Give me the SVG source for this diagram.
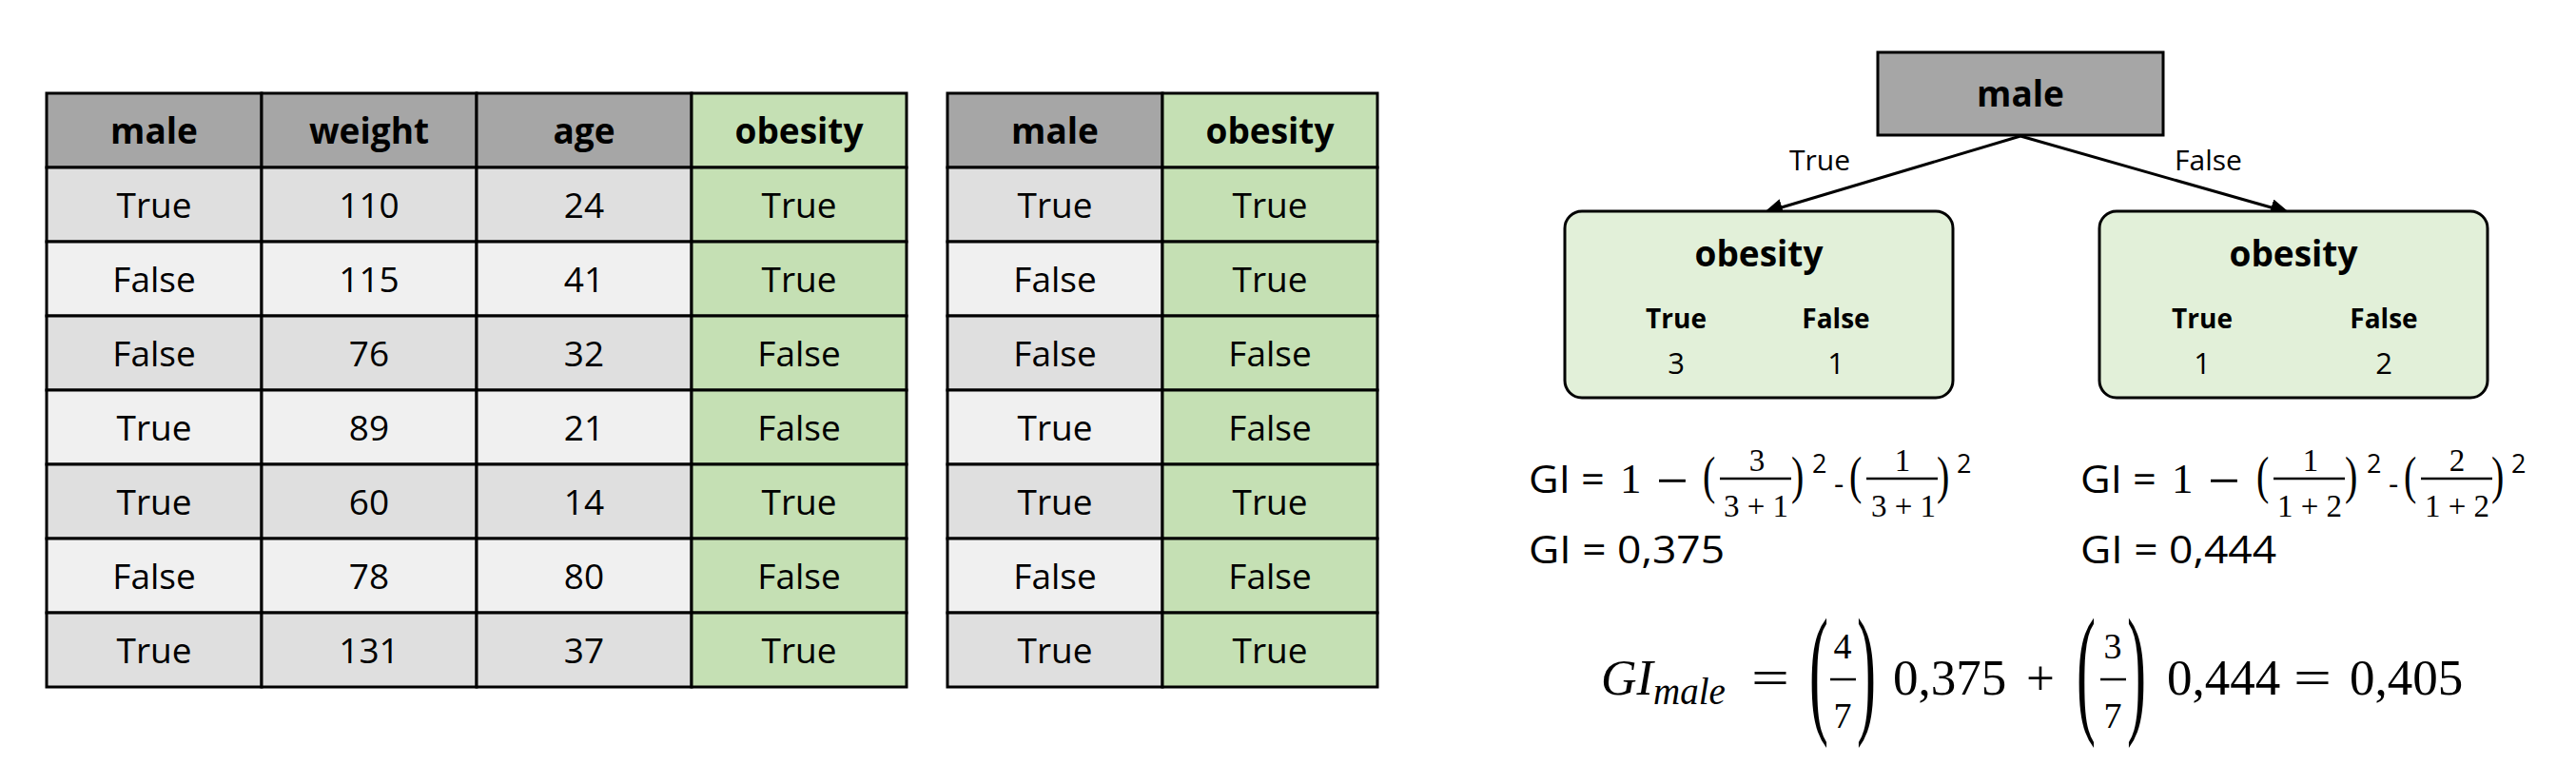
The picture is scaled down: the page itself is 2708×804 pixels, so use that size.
<svg xmlns="http://www.w3.org/2000/svg" width="2708" height="804" viewBox="0 0 2708 804">
<style>
.t{font-family:"Open Sans","Liberation Sans",sans-serif;font-size:37px;text-anchor:middle;fill:#000}
.b{font-weight:bold}
.c{stroke:#000;stroke-width:3}
.hd{fill:#A6A6A6}.g{fill:#C5E0B4}.d{fill:#DFDFDF}.l{fill:#F0F0F0}
.lf{fill:#E2F0D9;stroke:#000;stroke-width:3}
.s{font-family:"Open Sans","Liberation Sans",sans-serif;fill:#000}
.m{font-family:"Liberation Serif","DejaVu Serif",serif;fill:#000}
.mi{font-family:"Liberation Serif","DejaVu Serif",serif;font-style:italic;fill:#000}
.bar{stroke:#000;stroke-width:2.5}
.edge{stroke:#000;stroke-width:3;fill:none}
.lbl{font-family:"Open Sans","Liberation Sans",sans-serif;font-size:30px;fill:#000}
.cat{font-size:28px}
.cnt{font-size:31px}
</style>
<defs>
<marker id="ah" markerUnits="userSpaceOnUse" markerWidth="20" markerHeight="18" refX="18" refY="9" orient="auto">
<path d="M0,0 L20,9 L0,18 z" fill="#000"/>
</marker>
</defs>
<rect width="2708" height="804" fill="#fff"/>

<g id="table1">
<g id="t1-header">
<rect class="c hd" x="49" y="98" width="226" height="78"/>
<rect class="c hd" x="275" y="98" width="226" height="78"/>
<rect class="c hd" x="501" y="98" width="226" height="78"/>
<rect class="c g" x="727" y="98" width="226" height="78"/>
<text class="t b" x="162" y="151">male</text>
<text class="t b" x="388" y="151">weight</text>
<text class="t b" x="614" y="151">age</text>
<text class="t b" x="840" y="151">obesity</text>
</g>
<g id="t1-r1">
<rect class="c d" x="49" y="176" width="226" height="78"/><rect class="c d" x="275" y="176" width="226" height="78"/><rect class="c d" x="501" y="176" width="226" height="78"/><rect class="c g" x="727" y="176" width="226" height="78"/>
<text class="t" x="162" y="229">True</text><text class="t" x="388" y="229">110</text><text class="t" x="614" y="229">24</text><text class="t" x="840" y="229">True</text>
</g>
<g id="t1-r2">
<rect class="c l" x="49" y="254" width="226" height="78"/><rect class="c l" x="275" y="254" width="226" height="78"/><rect class="c l" x="501" y="254" width="226" height="78"/><rect class="c g" x="727" y="254" width="226" height="78"/>
<text class="t" x="162" y="307">False</text><text class="t" x="388" y="307">115</text><text class="t" x="614" y="307">41</text><text class="t" x="840" y="307">True</text>
</g>
<g id="t1-r3">
<rect class="c d" x="49" y="332" width="226" height="78"/><rect class="c d" x="275" y="332" width="226" height="78"/><rect class="c d" x="501" y="332" width="226" height="78"/><rect class="c g" x="727" y="332" width="226" height="78"/>
<text class="t" x="162" y="385">False</text><text class="t" x="388" y="385">76</text><text class="t" x="614" y="385">32</text><text class="t" x="840" y="385">False</text>
</g>
<g id="t1-r4">
<rect class="c l" x="49" y="410" width="226" height="78"/><rect class="c l" x="275" y="410" width="226" height="78"/><rect class="c l" x="501" y="410" width="226" height="78"/><rect class="c g" x="727" y="410" width="226" height="78"/>
<text class="t" x="162" y="463">True</text><text class="t" x="388" y="463">89</text><text class="t" x="614" y="463">21</text><text class="t" x="840" y="463">False</text>
</g>
<g id="t1-r5">
<rect class="c d" x="49" y="488" width="226" height="78"/><rect class="c d" x="275" y="488" width="226" height="78"/><rect class="c d" x="501" y="488" width="226" height="78"/><rect class="c g" x="727" y="488" width="226" height="78"/>
<text class="t" x="162" y="541">True</text><text class="t" x="388" y="541">60</text><text class="t" x="614" y="541">14</text><text class="t" x="840" y="541">True</text>
</g>
<g id="t1-r6">
<rect class="c l" x="49" y="566" width="226" height="78"/><rect class="c l" x="275" y="566" width="226" height="78"/><rect class="c l" x="501" y="566" width="226" height="78"/><rect class="c g" x="727" y="566" width="226" height="78"/>
<text class="t" x="162" y="619">False</text><text class="t" x="388" y="619">78</text><text class="t" x="614" y="619">80</text><text class="t" x="840" y="619">False</text>
</g>
<g id="t1-r7">
<rect class="c d" x="49" y="644" width="226" height="78"/><rect class="c d" x="275" y="644" width="226" height="78"/><rect class="c d" x="501" y="644" width="226" height="78"/><rect class="c g" x="727" y="644" width="226" height="78"/>
<text class="t" x="162" y="697">True</text><text class="t" x="388" y="697">131</text><text class="t" x="614" y="697">37</text><text class="t" x="840" y="697">True</text>
</g>
</g>

<g id="table2">
<g id="t2-header">
<rect class="c hd" x="996" y="98" width="226" height="78"/><rect class="c g" x="1222" y="98" width="226" height="78"/>
<text class="t b" x="1109" y="151">male</text><text class="t b" x="1335" y="151">obesity</text>
</g>
<g id="t2-r1"><rect class="c d" x="996" y="176" width="226" height="78"/><rect class="c g" x="1222" y="176" width="226" height="78"/>
<text class="t" x="1109" y="229">True</text><text class="t" x="1335" y="229">True</text></g>
<g id="t2-r2"><rect class="c l" x="996" y="254" width="226" height="78"/><rect class="c g" x="1222" y="254" width="226" height="78"/>
<text class="t" x="1109" y="307">False</text><text class="t" x="1335" y="307">True</text></g>
<g id="t2-r3"><rect class="c d" x="996" y="332" width="226" height="78"/><rect class="c g" x="1222" y="332" width="226" height="78"/>
<text class="t" x="1109" y="385">False</text><text class="t" x="1335" y="385">False</text></g>
<g id="t2-r4"><rect class="c l" x="996" y="410" width="226" height="78"/><rect class="c g" x="1222" y="410" width="226" height="78"/>
<text class="t" x="1109" y="463">True</text><text class="t" x="1335" y="463">False</text></g>
<g id="t2-r5"><rect class="c d" x="996" y="488" width="226" height="78"/><rect class="c g" x="1222" y="488" width="226" height="78"/>
<text class="t" x="1109" y="541">True</text><text class="t" x="1335" y="541">True</text></g>
<g id="t2-r6"><rect class="c l" x="996" y="566" width="226" height="78"/><rect class="c g" x="1222" y="566" width="226" height="78"/>
<text class="t" x="1109" y="619">False</text><text class="t" x="1335" y="619">False</text></g>
<g id="t2-r7"><rect class="c d" x="996" y="644" width="226" height="78"/><rect class="c g" x="1222" y="644" width="226" height="78"/>
<text class="t" x="1109" y="697">True</text><text class="t" x="1335" y="697">True</text></g>
</g>

<g id="connectors">
<line class="edge" x1="2124" y1="143" x2="1856" y2="223" marker-end="url(#ah)"/>
<line class="edge" x1="2124" y1="143" x2="2405" y2="223" marker-end="url(#ah)"/>
<text class="lbl" x="1881" y="179">True</text>
<text class="lbl" x="2286" y="179">False</text>
</g>

<g id="node-root">
<rect class="c hd" x="1974" y="55" width="300" height="87"/>
<text class="t b" x="2124" y="112">male</text>
</g>
<g id="node-left">
<rect class="lf" x="1645" y="222" width="408" height="196" rx="18"/>
<text class="t b" x="1849" y="280">obesity</text>
<text class="t b cat" x="1762" y="345">True</text>
<text class="t b cat" x="1930" y="345">False</text>
<text class="t cnt" x="1762" y="393">3</text>
<text class="t cnt" x="1930" y="393">1</text>
</g>
<g id="node-right">
<rect class="lf" x="2207" y="222" width="408" height="196" rx="18"/>
<text class="t b" x="2411" y="280">obesity</text>
<text class="t b cat" x="2315" y="345">True</text>
<text class="t b cat" x="2506" y="345">False</text>
<text class="t cnt" x="2315" y="393">1</text>
<text class="t cnt" x="2506" y="393">2</text>
</g>

<g id="formula-left">
<text class="s" x="1607" y="518" font-size="40" textLength="80" lengthAdjust="spacingAndGlyphs">GI =</text>
<text class="m" x="1703" y="518" font-size="45">1</text>
<text class="m" x="1741" y="525" font-size="60">−</text>
<text class="m" font-size="40" transform="translate(1790,504) scale(1,1.35)" y="10">(</text>
<text class="m" x="1847" y="495" font-size="33" text-anchor="middle">3</text>
<line class="bar" x1="1808" y1="503" x2="1883" y2="503"/>
<text class="m" x="1812" y="543" font-size="33" textLength="68" lengthAdjust="spacing">3+1</text>
<text class="m" font-size="40" transform="translate(1883,504) scale(1,1.35)" y="10">)</text>
<text class="s" x="1905" y="497" font-size="27">2</text>
<text class="s" x="1928" y="520" font-size="32">-</text>
<text class="m" font-size="40" transform="translate(1944,504) scale(1,1.35)" y="10">(</text>
<text class="m" x="2000" y="495" font-size="33" text-anchor="middle">1</text>
<line class="bar" x1="1962" y1="503" x2="2037" y2="503"/>
<text class="m" x="1967" y="543" font-size="33" textLength="68" lengthAdjust="spacing">3+1</text>
<text class="m" font-size="40" transform="translate(2036,504) scale(1,1.35)" y="10">)</text>
<text class="s" x="2057" y="497" font-size="27">2</text>
<text class="s" x="1607" y="592" font-size="40" textLength="206" lengthAdjust="spacingAndGlyphs">GI = 0,375</text>
</g>

<g id="formula-right">
<text class="s" x="2187" y="518" font-size="40" textLength="80" lengthAdjust="spacingAndGlyphs">GI =</text>
<text class="m" x="2283" y="518" font-size="45">1</text>
<text class="m" x="2321" y="525" font-size="60">−</text>
<text class="m" font-size="40" transform="translate(2372,504) scale(1,1.35)" y="10">(</text>
<text class="m" x="2429" y="495" font-size="33" text-anchor="middle">1</text>
<line class="bar" x1="2390" y1="503" x2="2465" y2="503"/>
<text class="m" x="2394" y="543" font-size="33" textLength="68" lengthAdjust="spacing">1+2</text>
<text class="m" font-size="40" transform="translate(2465,504) scale(1,1.35)" y="10">)</text>
<text class="s" x="2488" y="497" font-size="27">2</text>
<text class="s" x="2511" y="520" font-size="32">-</text>
<text class="m" font-size="40" transform="translate(2527,504) scale(1,1.35)" y="10">(</text>
<text class="m" x="2583" y="495" font-size="33" text-anchor="middle">2</text>
<line class="bar" x1="2545" y1="503" x2="2620" y2="503"/>
<text class="m" x="2549" y="543" font-size="33" textLength="68" lengthAdjust="spacing">1+2</text>
<text class="m" font-size="40" transform="translate(2619,504) scale(1,1.35)" y="10">)</text>
<text class="s" x="2640" y="497" font-size="27">2</text>
<text class="s" x="2187" y="592" font-size="40" textLength="206" lengthAdjust="spacingAndGlyphs">GI = 0,444</text>
</g>

<g id="formula-total">
<text class="mi" x="1683" y="730" font-size="52">GI</text>
<text class="mi" x="1738" y="740" font-size="39">male</text>
<text class="m" x="1841" y="730" font-size="53" textLength="40" lengthAdjust="spacingAndGlyphs">=</text>
<text class="m" font-size="60" transform="translate(1902,716) scale(1,2.5)" y="15">(</text>
<text class="m" x="1937" y="692" font-size="38" text-anchor="middle">4</text>
<line class="bar" x1="1924" y1="714" x2="1951" y2="714"/>
<text class="m" x="1937" y="765" font-size="38" text-anchor="middle">7</text>
<text class="m" font-size="60" transform="translate(1952,716) scale(1,2.5)" y="15">)</text>
<text class="m" x="1990" y="730" font-size="53">0,375</text>
<text class="m" x="2130" y="730" font-size="53">+</text>
<text class="m" font-size="60" transform="translate(2183,716) scale(1,2.5)" y="15">(</text>
<text class="m" x="2221" y="692" font-size="38" text-anchor="middle">3</text>
<line class="bar" x1="2208" y1="714" x2="2235" y2="714"/>
<text class="m" x="2221" y="765" font-size="38" text-anchor="middle">7</text>
<text class="m" font-size="60" transform="translate(2236,716) scale(1,2.5)" y="15">)</text>
<text class="m" x="2278" y="730" font-size="53">0,444</text>
<text class="m" x="2411" y="730" font-size="53" textLength="40" lengthAdjust="spacingAndGlyphs">=</text>
<text class="m" x="2470" y="730" font-size="53">0,405</text>
</g>
</svg>
